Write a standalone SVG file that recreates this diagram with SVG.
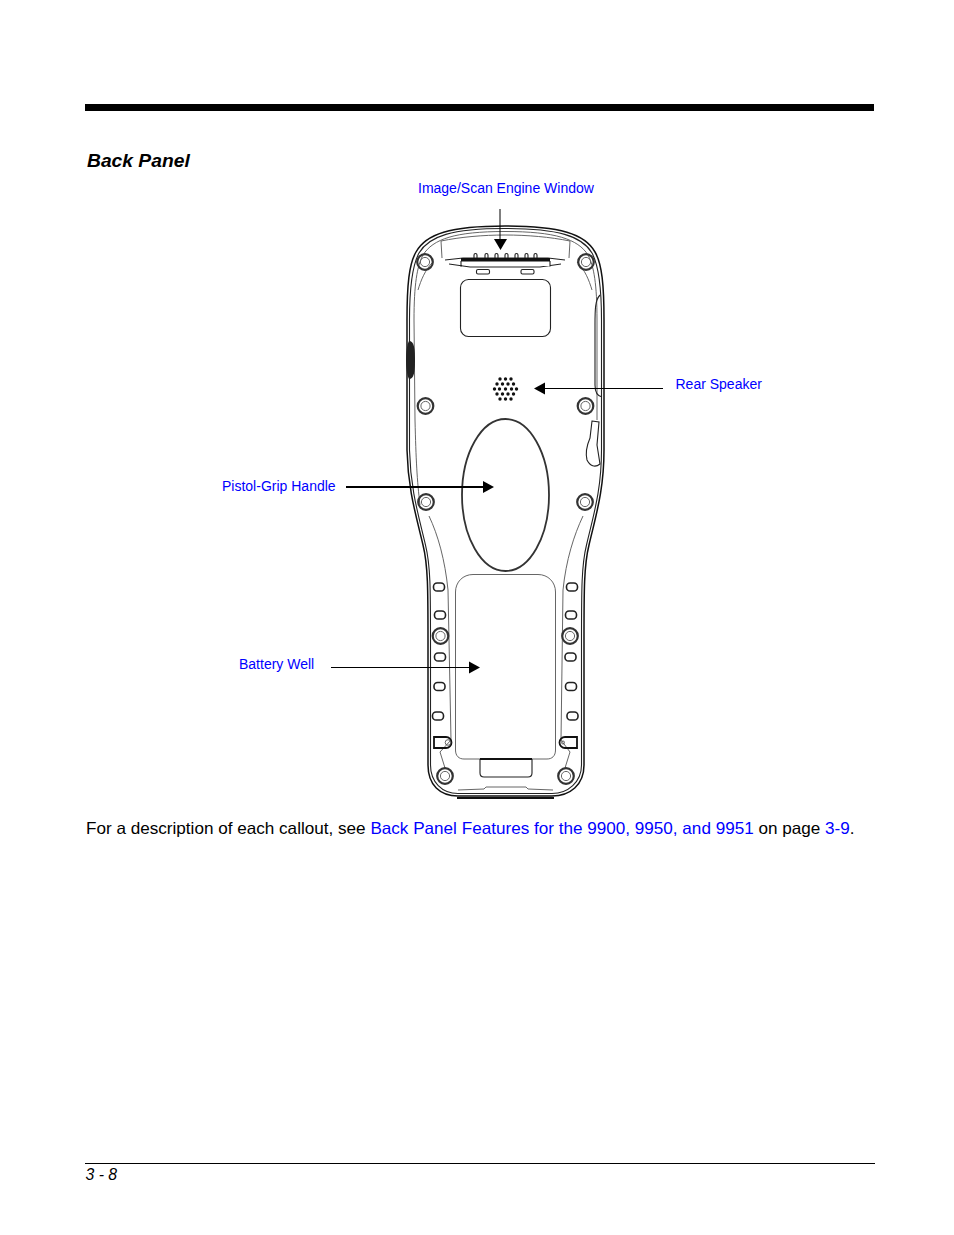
<svg xmlns="http://www.w3.org/2000/svg" width="954" height="1235" viewBox="0 0 954 1235">
<style>
text{font-family:"Liberation Sans",Arial,sans-serif}
.c{font-size:14px;fill:#0000ff}
.b{font-size:17.12px;fill:#000}
.o{fill:none;stroke:#222;stroke-width:1.1}
.t{fill:none;stroke:#555;stroke-width:.9}
.k{fill:none;stroke:#111;stroke-width:1.5}
.l{stroke:#000;fill:none}
</style>
<defs>
<g id="scr"><circle r="7.8" fill="none" stroke="#333" stroke-width="2.2"/><circle r="4.6" fill="none" stroke="#666" stroke-width="1"/></g>
<rect id="sl" x="-5.5" y="-4" width="11" height="8" rx="3.6" fill="none" stroke="#222" stroke-width="1.6"/>
<circle id="sp" r="1.7" fill="#111"/>
</defs>
<rect width="954" height="1235" fill="#fff"/>
<rect x="85" y="104" width="789" height="7" fill="#000"/>
<text x="87" y="167" font-size="19.25px" font-weight="700" font-style="italic">Back Panel</text>
<g id="device">
<path class="k" d="M505 226C450 226 426 234 416 252C409 264 407 285 407 320L407 450C408 490 416 515 423 545C428 565 428 590 428 640L428 765C428 785 440 796 458 796L552 796C570 796 584 785 584 765L584 640C584 590 584 565 589 545C596 515 604 490 604 450L604 320C604 285 602 264 595 252C585 234 560 226 505 226Z"/>
<path class="o" d="M505 228.500C452 228.500 429 236 419 253C412 266 409.500 287 409.500 320L409.500 450C410.500 490 418.500 515 425.500 545C430.500 565 430.500 590 430.500 640L430.500 765C430.500 782 442 793.500 458 793.500L552 793.500C568 793.500 581.500 782 581.500 765L581.500 640C581.500 590 581.500 565 586.500 545C593.500 515 601.500 490 601.500 450L601.500 320C601.500 287 599 266 592 253C582 236 558 228.500 505 228.500Z"/>
<path class="t" d="M505 231.500C455 231.500 433 239 423 255C417 266 414 285 414 320L415 420C416 460 417 480 420 505M505 231.500C555 231.500 578 239 588 255C594 266 597 285 597 320L597 420"/>
<path class="t" d="M429 516C438 535 445 560 448 590L451 740L440 752L445 768M583 516C574 535 566 560 563 590L561 740L570 752L565 768"/>
<path class="t" d="M441 241L442 258M570 241L569 258M441 241C480 233 530 233 570 241"/>
<path class="t" d="M433 262C425 270 421 280 418 290M577 262C585 270 589 280 592 290"/>
<path d="M409 341C405 348 405 372 409 379C414 379 415 372 415 360C415 348 414 341 409 341Z" fill="#222"/>
<path class="o" d="M600 295C595 300 595 310 595 325L595 385C595 392 597 396 602 397"/>
<path class="o" d="M592 421L599 422L597 445L600 464C595 468 590 466 587 460C585 452 587 445 590 438Z"/>
<use href="#scr" x="425" y="262"/><use href="#scr" x="586" y="262"/>
<use href="#scr" x="425.500" y="406"/><use href="#scr" x="585.500" y="406"/>
<use href="#scr" x="426" y="502"/><use href="#scr" x="585" y="502"/>
<use href="#scr" x="440.500" y="636"/><use href="#scr" x="570" y="636"/>
<use href="#scr" x="445" y="776"/><use href="#scr" x="566" y="776"/>
<path d="M445 260L463 258L548 258L565 260M449 264L470 267L540 267L561 264M461 261V267M550 261V267" class="o"/>
<rect x="461" y="258" width="89" height="3.500" fill="#111"/>
<path d="M474 258v-3a1.500 1.500 0 0 1 3 0v3M485 258v-3a1.500 1.500 0 0 1 3 0v3M495 258v-3a1.500 1.500 0 0 1 3 0v3M505 258v-3a1.500 1.500 0 0 1 3 0v3M515 258v-3a1.500 1.500 0 0 1 3 0v3M525 258v-3a1.500 1.500 0 0 1 3 0v3M534 258v-3a1.500 1.500 0 0 1 3 0v3" class="o"/>
<rect x="476.500" y="269.500" width="13" height="4.500" rx="1.500" class="o"/>
<rect x="521" y="269.500" width="13" height="4.500" rx="1.500" class="o"/>
<rect x="460.500" y="279.500" width="90" height="57" rx="8" class="o"/>
<ellipse cx="505.500" cy="495" rx="43.500" ry="76" fill="none" stroke="#333" stroke-width="1.800"/>
<path class="t" d="M473 574.500H538C548 574.500 555.500 582 555.500 592V750C555.500 756 552 759 547 759H464C459 759 455.500 756 455.500 750V592C455.500 582 463 574.500 473 574.500Z"/>
<path class="o" d="M480 759V773C480 776 481 777 484 777H528C531 777 532 776 532 773V759"/>
<path d="M480 759H532" stroke="#111" stroke-width="1.800"/>
<use href="#sl" x="439" y="587"/><use href="#sl" x="440" y="615"/><use href="#sl" x="440" y="657"/><use href="#sl" x="439.500" y="686.500"/><use href="#sl" x="438" y="716"/>
<use href="#sl" x="572" y="587"/><use href="#sl" x="571" y="615"/><use href="#sl" x="570.500" y="657"/><use href="#sl" x="571" y="686.500"/><use href="#sl" x="572.500" y="716"/>
<path d="M434 737H446A5.500 5.500 0 0 1 446 748H434Z" fill="none" stroke="#111" stroke-width="1.800"/><circle cx="448" cy="742.500" r="2.800" class="t"/>
<path d="M577 737H565A5.500 5.500 0 0 0 565 748H577Z" fill="none" stroke="#111" stroke-width="1.800"/><circle cx="563" cy="742.500" r="1.500" class="t"/>
<path class="t" d="M458 790L484 789L486 787L526 787L528 789L553 790"/>
<path d="M457 798H554" stroke="#111" stroke-width="1.800"/>
<g id="speaker">
<use href="#sp" x="500" y="379"/><use href="#sp" x="505.500" y="379"/><use href="#sp" x="511" y="379"/>
<use href="#sp" x="497" y="384"/><use href="#sp" x="502.500" y="384"/><use href="#sp" x="508" y="384"/><use href="#sp" x="513.500" y="384"/>
<use href="#sp" x="494.500" y="389"/><use href="#sp" x="499.500" y="389"/><use href="#sp" x="505.500" y="389"/><use href="#sp" x="511.500" y="389"/><use href="#sp" x="516.500" y="389"/>
<use href="#sp" x="497" y="394"/><use href="#sp" x="502.500" y="394"/><use href="#sp" x="508" y="394"/><use href="#sp" x="513.500" y="394"/>
<use href="#sp" x="500" y="399"/><use href="#sp" x="505.500" y="399"/><use href="#sp" x="511" y="399"/>
</g>
</g>
<g id="connectors">
<path class="l" d="M500 209V240"/><path d="M494 239H507L500.500 250Z"/>
<path class="l" d="M663 388.500H545"/><path d="M545 382.500V394.500L534 388.500Z"/>
<path class="l" stroke-width="2" d="M346 487H483"/><path d="M483 481V493L494 487Z"/>
<path class="l" d="M331 667.500H469"/><path d="M469 661.500V673.500L480 667.500Z"/>
</g>
<g id="label-engine"><text class="c" x="418" y="193">Image/Scan Engine Window</text></g>
<g id="label-speaker"><text class="c" x="675.500" y="389">Rear Speaker</text></g>
<g id="label-grip"><text class="c" x="222" y="491">Pistol-Grip Handle</text></g>
<g id="label-well"><text class="c" x="239" y="669">Battery Well</text></g>
<text class="b" x="86" y="834">For a description of each callout, see <tspan fill="#0000ff">Back Panel Features for the 9900, 9950, and 9951</tspan> on page <tspan fill="#0000ff">3-9</tspan>.</text>
<path d="M85 1163.500H875" stroke="#000"/>
<text x="85.500" y="1180" font-size="15.800px" font-style="italic">3 - 8</text>
</svg>
